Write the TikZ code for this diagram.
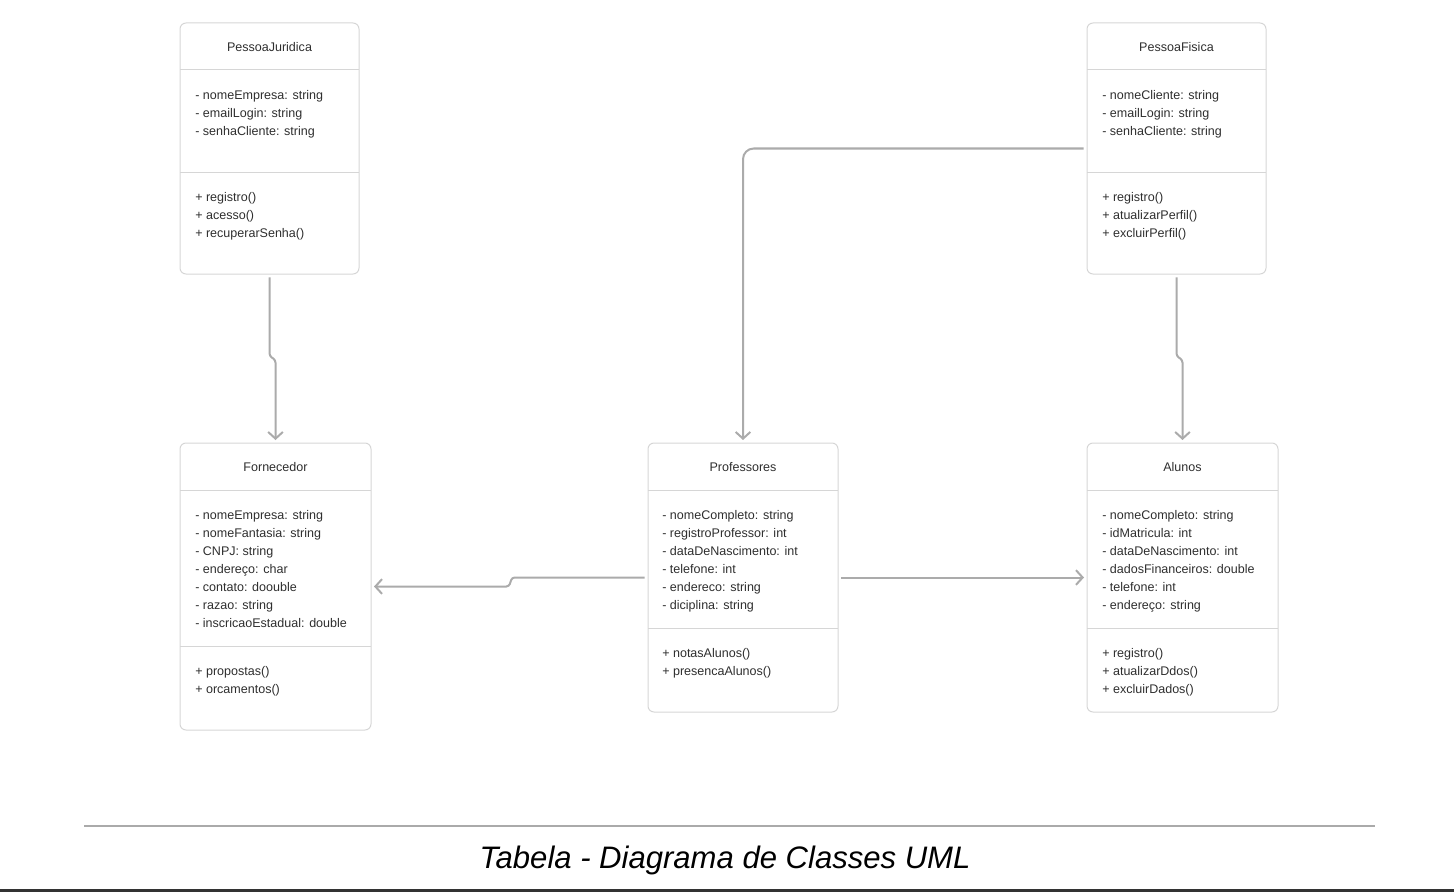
\documentclass[tikz,border=0pt]{standalone}
\usepackage{fontspec}
\setmainfont{Liberation Sans}
\usetikzlibrary{arrows.meta}
\definecolor{boxc}{HTML}{D6D6D6}
\definecolor{txtc}{HTML}{2E2E2E}
\definecolor{connc}{HTML}{ABABAB}
\definecolor{rulec}{HTML}{AAAAAA}
\begin{document}
\begin{tikzpicture}[x=0.75pt,y=-0.75pt,
  cls/.style={draw=boxc, line width=0.75pt, rounded corners=4.5pt, inner sep=0pt, outer sep=0pt},
  txt/.style={font=\fontsize{9.4pt}{11pt}\selectfont, text=txtc, inner sep=0pt, anchor=base west},
  ttl/.style={font=\fontsize{9.4pt}{11pt}\selectfont, text=txtc, inner sep=0pt, anchor=base},
  div/.style={draw=boxc, line width=0.75pt},
  conn/.style={draw=connc, line width=1.5pt, -{Straight Barb[length=5pt,width=11pt]}, shorten <=2.5pt, shorten >=2.25pt}]
\path[use as bounding box] (0,0) rectangle (1454,892);

% class boxes
\node[cls, minimum width=134.25pt, minimum height=188.25pt] (PJ) at (269.5,148.5) {};
\node[cls, minimum width=134.25pt, minimum height=188.25pt] (PF) at (1176.5,148.5) {};
\node[cls, minimum width=143.25pt, minimum height=215.25pt] (FO) at (275.5,586.5) {};
\node[cls, minimum width=142.5pt, minimum height=201.75pt] (PR) at (743,577.5) {};
\node[cls, minimum width=143.25pt, minimum height=201.75pt] (AL) at (1182.5,577.5) {};

% dividers
\draw[div] (PJ.west |- 0,70) -- (PJ.east |- 0,70);
\draw[div] (PJ.west |- 0,172) -- (PJ.east |- 0,172);
\draw[div] (PF.west |- 0,70) -- (PF.east |- 0,70);
\draw[div] (PF.west |- 0,172) -- (PF.east |- 0,172);
\draw[div] (FO.west |- 0,490) -- (FO.east |- 0,490);
\draw[div] (FO.west |- 0,646) -- (FO.east |- 0,646);
\draw[div] (PR.west |- 0,490) -- (PR.east |- 0,490);
\draw[div] (PR.west |- 0,628) -- (PR.east |- 0,628);
\draw[div] (AL.west |- 0,490) -- (AL.east |- 0,490);
\draw[div] (AL.west |- 0,628) -- (AL.east |- 0,628);

% titles
\node[ttl] (PJt) at (269.5,51.5) {PessoaJuridica};
\node[ttl] (PFt) at (1176.5,51.5) {PessoaFisica};
\node[ttl] (FOt) at (275.5,471.5) {Fornecedor};
\node[ttl] (PRt) at (743,471.5) {Professores};
\node[ttl] (ALt) at (1182.5,471.5) {Alunos};

% PessoaJuridica
\foreach \t [count=\i from 0] in {{- nomeEmpresa: string},{- emailLogin: string},{- senhaCliente: string}}
  \node[txt] (PJa\i) at (195,{99.5+18*\i}) {\t};
\foreach \t [count=\i from 0] in {{+ registro()},{+ acesso()},{+ recuperarSenha()}}
  \node[txt] (PJm\i) at (195,{201.5+18*\i}) {\t};

% PessoaFisica
\foreach \t [count=\i from 0] in {{- nomeCliente: string},{- emailLogin: string},{- senhaCliente: string}}
  \node[txt] (PFa\i) at (1102,{99.5+18*\i}) {\t};
\foreach \t [count=\i from 0] in {{+ registro()},{+ atualizarPerfil()},{+ excluirPerfil()}}
  \node[txt] (PFm\i) at (1102,{201.5+18*\i}) {\t};

% Fornecedor
\foreach \t [count=\i from 0] in {{- nomeEmpresa: string},{- nomeFantasia: string},{- CNPJ: string},{- endereço: char},{- contato: doouble},{- razao: string},{- inscricaoEstadual: double}}
  \node[txt] (FOa\i) at (195,{519.5+18*\i}) {\t};
\foreach \t [count=\i from 0] in {{+ propostas()},{+ orcamentos()}}
  \node[txt] (FOm\i) at (195,{675.5+18*\i}) {\t};

% Professores
\foreach \t [count=\i from 0] in {{- nomeCompleto: string},{- registroProfessor: int},{- dataDeNascimento: int},{- telefone: int},{- endereco: string},{- diciplina: string}}
  \node[txt] (PRa\i) at (662,{519.5+18*\i}) {\t};
\foreach \t [count=\i from 0] in {{+ notasAlunos()},{+ presencaAlunos()}}
  \node[txt] (PRm\i) at (662,{657.5+18*\i}) {\t};

% Alunos
\foreach \t [count=\i from 0] in {{- nomeCompleto: string},{- idMatricula: int},{- dataDeNascimento: int},{- dadosFinanceiros: double},{- telefone: int},{- endereço: string}}
  \node[txt] (ALa\i) at (1102,{519.5+18*\i}) {\t};
\foreach \t [count=\i from 0] in {{+ registro()},{+ atualizarDdos()},{+ excluirDados()}}
  \node[txt] (ALm\i) at (1102,{657.5+18*\i}) {\t};

% connectors
\draw[conn, rounded corners=2pt] (PJ.south) -- (PJ.south |- 0,356) -- (FO.north |- 0,360) -- (FO.north);
\draw[conn, rounded corners=2pt] (PF.south) -- (PF.south |- 0,356) -- (AL.north |- 0,360) -- (AL.north);
\draw[conn, rounded corners=8pt] (PF.west) -| (PR.north);
\draw[conn, rounded corners=2pt] (PR.west) -- (512,577.5) -- (509,586.5) -- (FO.east);
\draw[conn] (PR.east) -- (AL.west);

% caption
\draw[draw=rulec, line width=1.1pt] (84,826) -- (1375,826);
\node[font=\fontsize{23.3pt}{28pt}\selectfont\itshape, text=black, inner sep=0pt, anchor=base] (cap) at (725,868) {Tabela - Diagrama de Classes UML};
\draw[draw=black!80, line width=2.25pt] (0,890.5) -- (1454,890.5);
\end{tikzpicture}
\end{document}
